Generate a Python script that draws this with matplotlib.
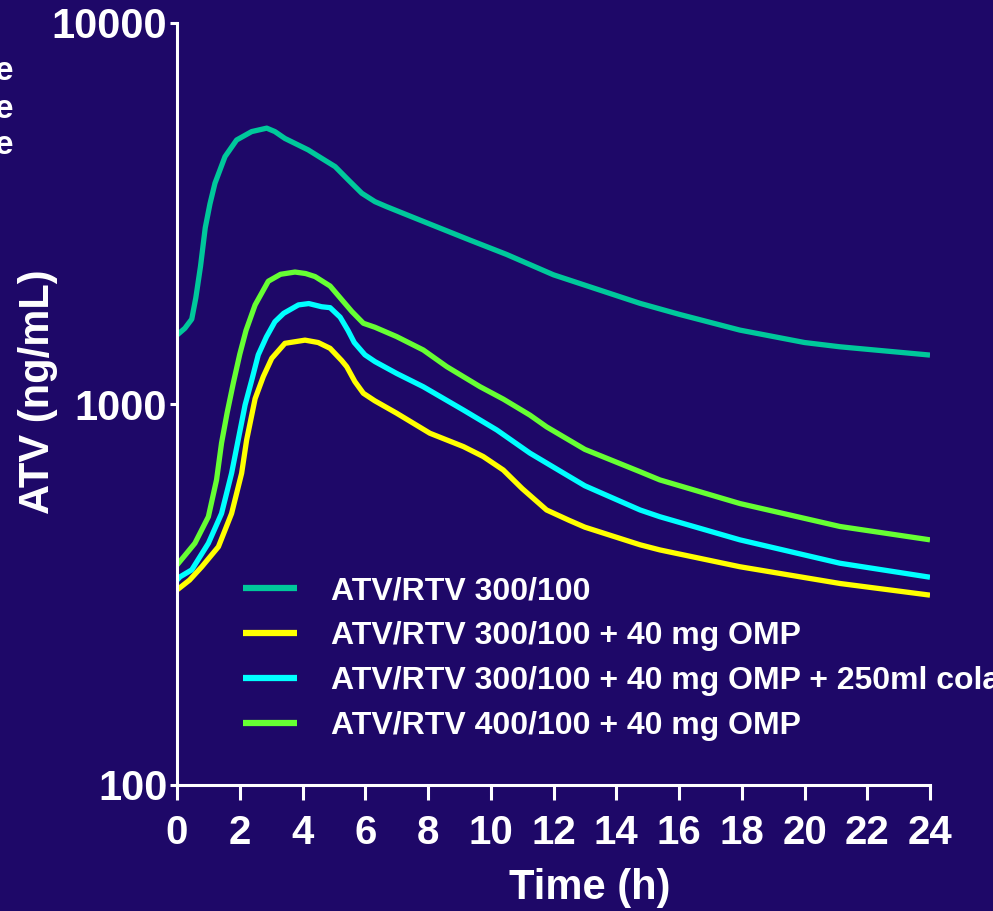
import numpy as np
import matplotlib.pyplot as plt

plt.rcParams['font.family'] = ['Liberation Sans', 'DejaVu Sans']
plt.rcParams['font.weight'] = 'bold'

# concentration-time data (ng/mL vs h)
t_std = [0, 0.25, 0.47, 0.6, 0.75, 0.9, 1.05, 1.21, 1.53, 1.9, 2.38, 2.86, 3.12, 3.44,
         4.18, 4.6, 5.04, 5.46, 5.89, 6.31, 6.68, 8, 9.34, 10.5, 12, 13.4, 14.76, 16,
         17.94, 20, 21.13, 24]
c_std = [1517, 1580, 1670, 1900, 2300, 2900, 3350, 3797, 4459, 4931, 5188, 5297, 5188, 4977,
         4645, 4420, 4198, 3874, 3574, 3397, 3296, 2980, 2692, 2470, 2183, 2000, 1837, 1720,
         1563, 1450, 1413, 1344]

t_omp = [0, 0.4, 0.79, 1.32, 1.74, 2.06, 2.22, 2.49, 2.75, 3.02, 3.44, 4.08, 4.5, 4.88,
         5.25, 5.41, 5.67, 5.94, 6.3, 7.0, 8.06, 9.13, 9.76, 10.4, 11.0, 11.78, 12.5, 13,
         14.76, 15.39, 17.94, 21.13, 24]
c_omp = [325, 345, 374, 422, 516, 658, 805, 1033, 1180, 1318, 1443, 1471, 1450, 1400,
         1300, 1253, 1145, 1067, 1020, 946, 838, 773, 728, 671, 600, 527, 495, 475,
         427, 414, 374, 338, 315]

t_cola = [0, 0.1, 0.47, 1.0, 1.42, 1.74, 1.95, 2.17, 2.4, 2.59, 2.85, 3.12, 3.4, 3.87,
          4.2, 4.61, 4.88, 5.2, 5.45, 5.65, 5.99, 6.31, 7.0, 7.85, 9.13, 10.19, 11.25,
          12.3, 13, 14.76, 15.39, 17.94, 21.13, 24]
c_cola = [345, 352, 367, 431, 516, 658, 805, 994, 1170, 1346, 1500, 1644, 1730, 1820,
          1835, 1800, 1790, 1690, 1560, 1450, 1346, 1292, 1203, 1110, 964, 855, 743,
          660, 610, 527, 506, 440, 382, 351]

t_400 = [0, 0.3, 0.57, 1.0, 1.26, 1.42, 1.6, 1.8, 2.0, 2.2, 2.49, 2.91, 3.3, 3.76,
         4.1, 4.4, 4.88, 5.2, 5.57, 5.94, 6.31, 7.0, 7.85, 8.6, 9.66, 10.4, 11.25, 11.78,
         13, 14.76, 15.39, 17.94, 21.13, 24]
c_400 = [378, 405, 431, 506, 632, 790, 950, 1140, 1350, 1560, 1820, 2100, 2190, 2220,
         2200, 2160, 2040, 1900, 1750, 1629, 1590, 1503, 1386, 1253, 1110, 1030, 935, 871,
         760, 664, 632, 548, 477, 440]

labels = ['ATV/RTV 300/100',
          'ATV/RTV 300/100 + 40 mg OMP',
          'ATV/RTV 300/100 + 40 mg OMP + 250ml cola',
          'ATV/RTV 400/100 + 40 mg OMP']
colors = ['#00C89B', '#FFFF00', '#00FFFF', '#66FF33']

bg = '#1E0868'
fig = plt.figure(figsize=(9.93, 9.11), dpi=100, facecolor=bg)
ax = fig.add_axes([177/993, 1-785/911, (930-177)/993, (785-23)/911])
ax.set_facecolor(bg)

for t, c, lab, col in zip([t_std, t_omp, t_cola, t_400], [c_std, c_omp, c_cola, c_400],
                          labels, colors):
    ax.plot(t, c, color=col, lw=3.8, label=lab, solid_joinstyle='round',
            solid_capstyle='butt')

ax.set_yscale('log')
ax.set_ylim(100, 10000)
ax.set_xlim(0, 24)
ax.set_xticks(range(0, 25, 2))
ax.set_yticks([100, 1000, 10000])
ax.set_yticklabels(['100', '1000', '10000'])
ax.yaxis.set_minor_locator(plt.NullLocator())

for s in ['top', 'right']:
    ax.spines[s].set_visible(False)
for s in ['left', 'bottom']:
    ax.spines[s].set_color('white')
    ax.spines[s].set_linewidth(2.2)

ax.tick_params(axis='x', colors='white', length=11, width=2.2, pad=10, labelsize=29)
ax.tick_params(axis='y', colors='white', length=5, width=2.2, pad=2, labelsize=30)
for lbl in ax.get_xticklabels() + ax.get_yticklabels():
    lbl.set_fontweight('bold')

ax.set_xlabel('Time (h)', color='white', fontsize=30, fontweight='bold')
ax.set_ylabel('ATV (ng/mL)', color='white', fontsize=30, fontweight='bold')
ax.xaxis.set_label_coords((590-177)/753, (785-868)/762)
ax.yaxis.set_label_coords((58-177)/753, (785-392)/762)

leg = ax.legend(loc='upper left', bbox_to_anchor=(243/993, 1-576/911),
                bbox_transform=fig.transFigure, frameon=False, fontsize=23,
                handlelength=1.7, handletextpad=1.05, labelspacing=0.47,
                borderpad=0, borderaxespad=0)
for txt in leg.get_texts():
    txt.set_color('white')
    txt.set_fontweight('bold')
for ln in leg.get_lines():
    ln.set_linewidth(4.5)

# letters cut off from the neighbouring slide text
for yy in [71, 109, 146]:
    fig.text(-5/993, 1-yy/911, 'e', color='white', fontsize=24, fontweight='bold',
             va='center', ha='left')

fig.savefig('out.png', dpi=100, facecolor=bg)
